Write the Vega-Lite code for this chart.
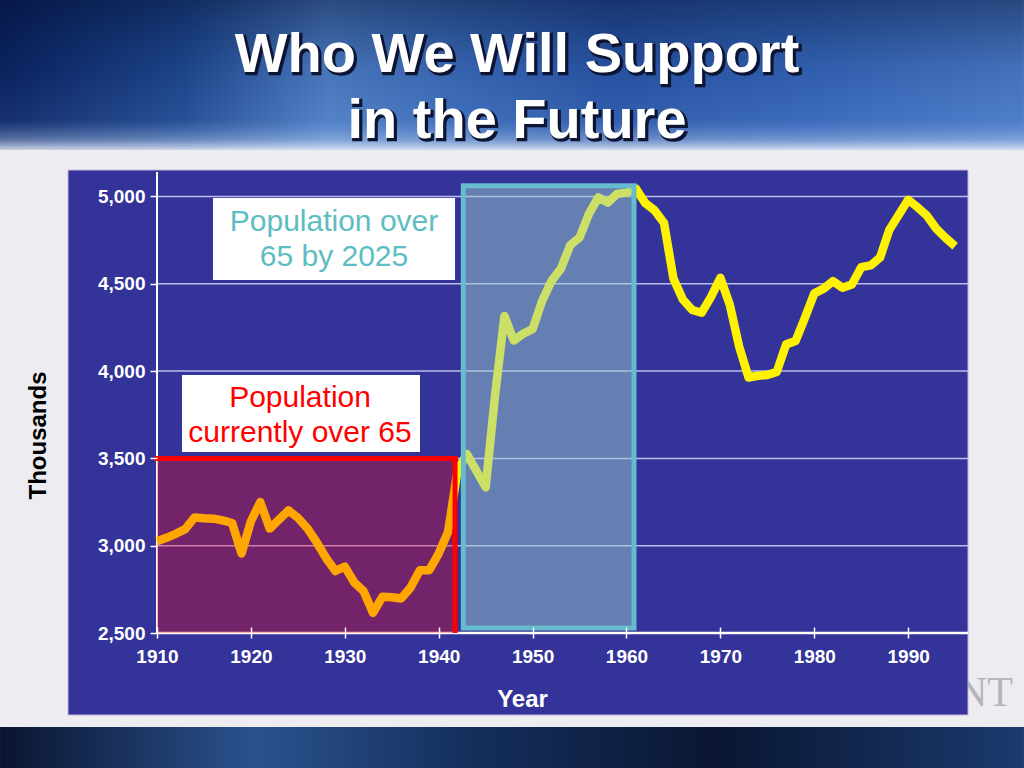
{
  "$schema": "https://vega.github.io/schema/vega-lite/v6.json",
  "width": 900,
  "height": 545,
  "autosize": {"type": "none"},
  "padding": {"left": 68, "top": 170, "right": 56, "bottom": 53},
  "background": "#ededf1",
  "config": {"view": {"stroke": null}, "font": "Liberation Sans"},
  "layer": [
    {
      "data": {"values": [{}]},
      "mark": {"type": "rect", "fill": {"gradient": "linear", "x1": 0, "y1": 0, "x2": 1, "y2": 0, "stops": [
        {"offset": 0, "color": "#0b2260"},
        {"offset": 0.18, "color": "#1f4890"},
        {"offset": 0.32, "color": "#4f7fc6"},
        {"offset": 0.45, "color": "#3a6ab8"},
        {"offset": 0.6, "color": "#2a56a8"},
        {"offset": 0.8, "color": "#3566b8"},
        {"offset": 1, "color": "#4a7ac8"}]}},
      "encoding": {"x": {"datum": 1893.28}, "x2": {"datum": 2002.33}, "y": {"datum": 6125.2}, "y2": {"datum": 5266.1}}
    },
    {
      "data": {"values": [{}]},
      "mark": {"type": "rect", "fill": {"gradient": "linear", "x1": 0, "y1": 0, "x2": 0, "y2": 1, "stops": [
        {"offset": 0, "color": "rgba(0,10,40,0.45)"},
        {"offset": 0.45, "color": "rgba(0,20,60,0.1)"},
        {"offset": 0.8, "color": "rgba(120,160,220,0.1)"},
        {"offset": 0.93, "color": "rgba(190,210,240,0.45)"},
        {"offset": 1, "color": "rgba(235,240,250,0.85)"}]}},
      "encoding": {"x": {"datum": 1893.28}, "x2": {"datum": 2002.33}, "y": {"datum": 6125.2}, "y2": {"datum": 5266.1}}
    },
    {
      "data": {"values": [{}]},
      "mark": {"type": "rect", "fill": {"gradient": "linear", "x1": 0, "y1": 0, "x2": 1, "y2": 0, "stops": [
        {"offset": 0, "color": "#0a1530"},
        {"offset": 0.25, "color": "#2b528e"},
        {"offset": 0.45, "color": "#15305e"},
        {"offset": 0.7, "color": "#0a1632"},
        {"offset": 1, "color": "#1b3a6e"}]}},
      "encoding": {"x": {"datum": 1893.28}, "x2": {"datum": 2002.33}, "y": {"datum": 1961.7}, "y2": {"datum": 1726.9}}
    },
    {
      "data": {"values": [{}]},
      "mark": {"type": "text", "text": "NT", "font": "Liberation Serif", "fontSize": 42, "color": "#b5b5bd", "align": "right", "baseline": "alphabetic"},
      "encoding": {"x": {"datum": 2001.16}, "y": {"datum": 2081.9}}
    },
    {
      "data": {"values": [{}]},
      "mark": {"type": "rect", "fill": "#333399", "stroke": "#c8b4d8", "strokeWidth": 1},
      "encoding": {"x": {"datum": 1900.52}, "x2": {"datum": 1996.37}, "y": {"datum": 2030.4}, "y2": {"datum": 5151.6}}
    },
    {
      "data": {"values": [{"v": 3000}, {"v": 3500}, {"v": 4000}, {"v": 4500}, {"v": 5000}]},
      "mark": {"type": "rule", "color": "#bcbcee", "strokeWidth": 1.5},
      "encoding": {"y": {"field": "v", "type": "quantitative"}, "x": {"datum": 1910}, "x2": {"datum": 1996.37}}
    },
    {
      "data": {"values": [{}]},
      "mark": {"type": "rule", "color": "#ffffff", "strokeWidth": 2},
      "encoding": {"x": {"datum": 1910}, "y": {"datum": 2500}, "y2": {"datum": 5140}}
    },
    {
      "data": {"values": [{}]},
      "mark": {"type": "rule", "color": "#ffffff", "strokeWidth": 2.5},
      "encoding": {"y": {"datum": 2500}, "x": {"datum": 1910}, "x2": {"datum": 1996.37}}
    },
    {
      "data": {"values": [
        {"year": 1910, "thousands": 3025}, {"year": 1911, "thousands": 3045}, {"year": 1912, "thousands": 3068},
        {"year": 1913, "thousands": 3095}, {"year": 1914, "thousands": 3162}, {"year": 1915, "thousands": 3157},
        {"year": 1916, "thousands": 3155}, {"year": 1917, "thousands": 3145}, {"year": 1918, "thousands": 3130},
        {"year": 1919, "thousands": 2955}, {"year": 1920, "thousands": 3140}, {"year": 1921, "thousands": 3250},
        {"year": 1922, "thousands": 3098}, {"year": 1923, "thousands": 3150}, {"year": 1924, "thousands": 3202},
        {"year": 1925, "thousands": 3160}, {"year": 1926, "thousands": 3100}, {"year": 1927, "thousands": 3020},
        {"year": 1928, "thousands": 2930}, {"year": 1929, "thousands": 2855}, {"year": 1930, "thousands": 2880},
        {"year": 1931, "thousands": 2790}, {"year": 1932, "thousands": 2740}, {"year": 1933, "thousands": 2615},
        {"year": 1934, "thousands": 2707}, {"year": 1935, "thousands": 2705}, {"year": 1936, "thousands": 2698},
        {"year": 1937, "thousands": 2760}, {"year": 1938, "thousands": 2860}, {"year": 1939, "thousands": 2860},
        {"year": 1940, "thousands": 2955}, {"year": 1941, "thousands": 3080}, {"year": 1942, "thousands": 3430},
        {"year": 1943, "thousands": 3525}, {"year": 1944, "thousands": 3430}, {"year": 1945, "thousands": 3335},
        {"year": 1946, "thousands": 3860}, {"year": 1947, "thousands": 4315}, {"year": 1948, "thousands": 4175},
        {"year": 1949, "thousands": 4215}, {"year": 1950, "thousands": 4240}, {"year": 1951, "thousands": 4400},
        {"year": 1952, "thousands": 4515}, {"year": 1953, "thousands": 4585}, {"year": 1954, "thousands": 4720},
        {"year": 1955, "thousands": 4765}, {"year": 1956, "thousands": 4900}, {"year": 1957, "thousands": 4995},
        {"year": 1958, "thousands": 4965}, {"year": 1959, "thousands": 5015}, {"year": 1960, "thousands": 5022},
        {"year": 1961, "thousands": 5045}, {"year": 1962, "thousands": 4962}, {"year": 1963, "thousands": 4920},
        {"year": 1964, "thousands": 4848}, {"year": 1965, "thousands": 4530}, {"year": 1966, "thousands": 4410},
        {"year": 1967, "thousands": 4350}, {"year": 1968, "thousands": 4334}, {"year": 1969, "thousands": 4425},
        {"year": 1970, "thousands": 4534}, {"year": 1971, "thousands": 4380}, {"year": 1972, "thousands": 4140},
        {"year": 1973, "thousands": 3963}, {"year": 1974, "thousands": 3973}, {"year": 1975, "thousands": 3978},
        {"year": 1976, "thousands": 3995}, {"year": 1977, "thousands": 4153}, {"year": 1978, "thousands": 4172},
        {"year": 1979, "thousands": 4305}, {"year": 1980, "thousands": 4445}, {"year": 1981, "thousands": 4472},
        {"year": 1982, "thousands": 4515}, {"year": 1983, "thousands": 4477}, {"year": 1984, "thousands": 4496},
        {"year": 1985, "thousands": 4595}, {"year": 1986, "thousands": 4605}, {"year": 1987, "thousands": 4650},
        {"year": 1988, "thousands": 4810}, {"year": 1989, "thousands": 4895}, {"year": 1990, "thousands": 4981},
        {"year": 1991, "thousands": 4938}, {"year": 1992, "thousands": 4890}, {"year": 1993, "thousands": 4815},
        {"year": 1994, "thousands": 4762}, {"year": 1995, "thousands": 4715}
      ]},
      "mark": {"type": "line", "color": "#FFF200", "strokeWidth": 8.5, "strokeJoin": "round", "strokeCap": "butt"},
      "encoding": {
        "x": {
          "field": "year", "type": "quantitative",
          "scale": {"domain": [1900.52, 1996.37], "nice": false, "zero": false},
          "axis": {
            "title": "Year", "values": [1910, 1920, 1930, 1940, 1950, 1960, 1970, 1980, 1990], "format": "d",
            "offset": -88, "domain": false, "grid": false, "tickSize": 11, "tickWidth": 1.5, "tickColor": "#ffffff",
            "labelColor": "#ffffff", "labelFontSize": 19, "labelFontWeight": "bold", "labelFont": "Liberation Sans",
            "labelPadding": 9, "labelFlush": false, "zindex": 1,
            "titleColor": "#ffffff", "titleFontSize": 24, "titleFontWeight": "bold", "titleFont": "Liberation Sans",
            "titleX": 454, "titleY": 79, "titleAlign": "center", "titleBaseline": "alphabetic"
          }
        },
        "y": {
          "field": "thousands", "type": "quantitative",
          "scale": {"domain": [2030.4, 5151.6], "nice": false, "zero": false},
          "axis": {
            "title": "Thousands", "values": [2500, 3000, 3500, 4000, 4500, 5000], "format": ",d",
            "offset": -89, "domain": false, "grid": false, "tickSize": 7, "tickWidth": 1.5, "tickColor": "#ffffff",
            "labelColor": "#ffffff", "labelFontSize": 19, "labelFontWeight": "bold", "labelFont": "Liberation Sans",
            "labelPadding": 5, "zindex": 1,
            "titleColor": "#000000", "titleFontSize": 24, "titleFontWeight": "bold", "titleFont": "Liberation Sans",
            "titleX": -119, "titleY": 265, "titleAngle": -90, "titleAlign": "center", "titleBaseline": "middle"
          }
        }
      }
    },
    {
      "data": {"values": [{}]},
      "mark": {"type": "rect", "fill": "#FF0000", "fillOpacity": 0.31},
      "encoding": {"x": {"datum": 1910}, "x2": {"datum": 1941.74}, "y": {"datum": 2500}, "y2": {"datum": 3500}}
    },
    {
      "data": {"values": [{}]},
      "mark": {"type": "rect", "fill": "#99CCCC", "fillOpacity": 0.5, "stroke": "#66BBCC", "strokeWidth": 5},
      "encoding": {"x": {"datum": 1942.62}, "x2": {"datum": 1960.8}, "y": {"datum": 2529}, "y2": {"datum": 5062}}
    },
    {
      "data": {"values": [{}]},
      "mark": {"type": "rule", "color": "#FF0000", "strokeWidth": 5, "strokeCap": "square"},
      "encoding": {"y": {"datum": 3500}, "x": {"datum": 1910}, "x2": {"datum": 1941.74}}
    },
    {
      "data": {"values": [{}]},
      "mark": {"type": "rule", "color": "#FF0000", "strokeWidth": 5},
      "encoding": {"x": {"datum": 1941.74}, "y": {"datum": 2500}, "y2": {"datum": 3514}}
    },
    {
      "data": {"values": [{}]},
      "mark": {"type": "rect", "fill": "#ffffff"},
      "encoding": {"x": {"datum": 1915.96}, "x2": {"datum": 1941.74}, "y": {"datum": 4521.6}, "y2": {"datum": 4991.2}}
    },
    {
      "data": {"values": [{}]},
      "mark": {"type": "rect", "fill": "#ffffff"},
      "encoding": {"x": {"datum": 1912.66}, "x2": {"datum": 1938.01}, "y": {"datum": 3536.6}, "y2": {"datum": 3977.6}}
    },
    {
      "data": {"values": [{}]},
      "mark": {"type": "text", "text": ["Population over", "65 by 2025"], "fontSize": 30, "lineHeight": 35, "color": "#5DBDC2", "align": "center", "baseline": "middle", "font": "Liberation Sans"},
      "encoding": {"x": {"datum": 1928.85}, "y": {"datum": 4853.8}}
    },
    {
      "data": {"values": [{}]},
      "mark": {"type": "text", "text": ["Population", "currently over 65"], "fontSize": 30, "lineHeight": 35, "color": "#FF0000", "align": "center", "baseline": "middle", "font": "Liberation Sans"},
      "encoding": {"x": {"datum": 1925.23}, "y": {"datum": 3845.8}}
    },
    {
      "data": {"values": [{}]},
      "mark": {"type": "text", "text": "Who We Will Support", "fontSize": 56, "fontWeight": "bold", "font": "Liberation Sans", "fill": "#0d1533", "stroke": "#0d1533", "strokeWidth": 2.5, "dx": 2, "dy": 2, "align": "center", "baseline": "alphabetic"},
      "encoding": {"x": {"datum": 1948.34}, "y": {"datum": 5712.8}}
    },
    {
      "data": {"values": [{}]},
      "mark": {"type": "text", "text": "in the Future", "fontSize": 56, "fontWeight": "bold", "font": "Liberation Sans", "fill": "#0d1533", "stroke": "#0d1533", "strokeWidth": 2.5, "dx": 2, "dy": 2, "align": "center", "baseline": "alphabetic"},
      "encoding": {"x": {"datum": 1948.34}, "y": {"datum": 5334.9}}
    },
    {
      "data": {"values": [{}]},
      "mark": {"type": "text", "text": "Who We Will Support", "fontSize": 56, "fontWeight": "bold", "font": "Liberation Sans", "fill": "#ffffff", "align": "center", "baseline": "alphabetic"},
      "encoding": {"x": {"datum": 1948.34}, "y": {"datum": 5712.8}}
    },
    {
      "data": {"values": [{}]},
      "mark": {"type": "text", "text": "in the Future", "fontSize": 56, "fontWeight": "bold", "font": "Liberation Sans", "fill": "#ffffff", "align": "center", "baseline": "alphabetic"},
      "encoding": {"x": {"datum": 1948.34}, "y": {"datum": 5334.9}}
    }
  ]
}
